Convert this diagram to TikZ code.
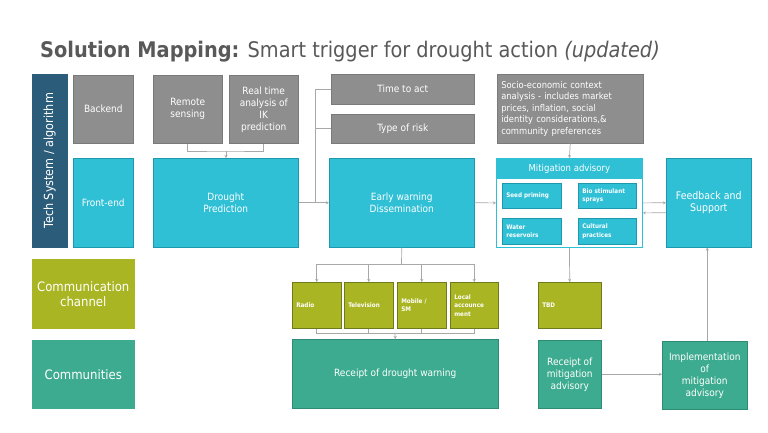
\documentclass[tikz,border=0pt]{standalone}
\usepackage{fontspec}
\setmainfont{DejaVu Sans Condensed}
\usetikzlibrary{arrows.meta}
\definecolor{dblue}{HTML}{2B5D7A}
\definecolor{gbox}{HTML}{8E8E8E}
\definecolor{gedge}{HTML}{7A7A7A}
\definecolor{cbox}{HTML}{2FC0D6}
\definecolor{cedge}{HTML}{1E98AC}
\definecolor{obox}{HTML}{A9B522}
\definecolor{oedge}{HTML}{6F7A1C}
\definecolor{tbox}{HTML}{3DAB8F}
\definecolor{tedge}{HTML}{2E8C74}
\definecolor{lcol}{HTML}{A8A8A8}
\definecolor{ttl}{HTML}{595959}
\tikzset{
  bx/.style={anchor=north west, inner sep=0pt, text=white, align=center, line width=0.5pt},
  graybox/.style={bx, fill=gbox, draw=gedge},
  cyanbox/.style={bx, fill=cbox, draw=cedge},
  olivebox/.style={bx, fill=obox, draw=oedge},
  tealbox/.style={bx, fill=tbox, draw=tedge},
  fmain/.style={font=\fontsize{10}{12}\selectfont},
  fsmall/.style={font=\bfseries\fontsize{6.3}{8.5}\selectfont},
  ln/.style={draw=lcol, line width=0.7pt},
  arr/.style={ln, -{Stealth[length=3pt,width=3pt]}},
}
% \mybox{style}{name}{x1}{y1}{x2}{y2}{text}
\newcommand{\mybox}[7]{\node[#1, minimum width={#5pt-#3pt}, minimum height={#6pt-#4pt}] (#2) at (#3,#4) {#7};}
% left-aligned variant
\newcommand{\mylbox}[7]{\node[#1, minimum width={#5pt-#3pt}, minimum height={#6pt-#4pt}, inner xsep=4pt, text width={#5pt-#3pt-8pt}, align=left] (#2) at (#3,#4) {#7};}
\begin{document}
\begin{tikzpicture}[x=1pt,y=-1pt]
\useasboundingbox[fill=white] (0,0) rectangle (768,432);
% title
\node[anchor=base west, inner sep=0pt, text=ttl, font=\fontsize{21.5}{24}\selectfont] (title) at (40,57)
  {\textbf{Solution Mapping:} Smart trigger for drought action \textit{(updated)}};
% row labels
\mybox{bx, fill=dblue, draw=dblue}{tech}{32}{74}{67}{247}{}
\node[text=white, rotate=90, font=\fontsize{12.5}{14}\selectfont] (techt) at (tech.center) {Tech System / algorithm};
\mybox{graybox, fmain}{backend}{73}{75}{133}{143}{Backend}
\mybox{cyanbox, fmain}{front}{73}{158}{133}{247}{Front-end}
\mybox{olivebox, draw=obox, font=\fontsize{13}{15}\selectfont}{comm}{32}{259}{134}{328}{Communication\\channel}
\mybox{tealbox, draw=tbox, font=\fontsize{13}{15}\selectfont}{cmty}{32}{340}{134}{408}{Communities}
% top row
\mybox{graybox, fmain}{rs}{153}{75}{222}{143}{Remote\\sensing}
\mybox{graybox, fmain}{rt}{229}{75}{298}{143}{Real time\\analysis of\\IK\\prediction}
\mybox{cyanbox, fmain}{dp}{153}{158}{298}{247}{Drought\\Prediction}
\mybox{graybox, fmain}{tta}{331}{74}{474}{104}{Time to act}
\mybox{graybox, fmain}{rsk}{331}{114}{474}{143}{Type of risk}
\mybox{cyanbox, fmain}{ew}{329}{158}{474}{247}{Early warning\\Dissemination}
\mylbox{graybox, font=\fontsize{9.3}{11.5}\selectfont}{soc}{497}{74}{643}{143}{Socio-economic context\\analysis - includes market\\prices, inflation, social\\identity considerations,\&\\community preferences}
% mitigation advisory
\mybox{bx, fill=white, draw=cbox, line width=0.8pt}{mit}{496}{158}{642}{247}{}
\node[bx, fill=cbox, draw=cbox, line width=0.8pt, anchor=north, minimum width=146pt, minimum height=20pt, font=\fontsize{9.5}{11}\selectfont] (mith) at (mit.north) {Mitigation advisory};
\mylbox{cyanbox, fsmall}{seed}{502}{183}{561}{208}{Seed priming}
\mylbox{cyanbox, fsmall}{bio}{578}{183}{636}{208}{Bio stimulant\\sprays}
\mylbox{cyanbox, fsmall}{water}{502}{218}{561}{244}{Water\\reservoirs}
\mylbox{cyanbox, fsmall}{cult}{578}{218}{636}{244}{Cultural\\practices}
\mybox{cyanbox, font=\fontsize{10.5}{12.5}\selectfont}{fb}{666}{158}{751}{247}{Feedback and\\Support}
% channels
\mylbox{olivebox, fsmall}{radio}{292}{282}{341}{328}{Radio}
\mylbox{olivebox, fsmall}{tv}{344}{282}{393}{328}{Television}
\mylbox{olivebox, fsmall}{mob}{397}{282}{446}{328}{Mobile /\\SM}
\mylbox{olivebox, fsmall}{loc}{450}{282}{498}{328}{Local\\accounce\\ment}
\mylbox{olivebox, fsmall}{tbd}{538}{282}{601}{328}{TBD}
% communities row
\mybox{tealbox, fmain}{rdw}{292}{339}{498}{408}{Receipt of drought warning}
\mybox{tealbox, fmain}{rma}{538}{340}{601}{408}{Receipt of\\mitigation\\advisory}
\mybox{tealbox, fmain}{impl}{662}{341}{747}{409}{Implementation\\of\\mitigation\\advisory}
% connectors
\coordinate (j1) at (226,151);
\draw[ln] (rs.south) |- (j1) -| (rt.south);
\draw[arr] (j1) -- (j1 |- dp.north);
\draw[arr] (dp.east) -- (ew.west);
\coordinate (b1) at (315,202.5);
\draw[ln] (b1) |- (tta.west);
\draw[ln] (b1 |- rsk.west) -- (rsk.west);
\draw[arr] (ew.east) -- (mit.west);
\draw[arr] (soc.south) -- (mith.north);
\draw[arr] (mit.east) -- (fb.west);
\draw[arr] ([yshift=-10pt]fb.west) -- ([yshift=-10pt]mit.east);
\coordinate (j2) at (401.5,264);
\draw[ln] (ew.south) -- (j2);
\draw[ln] (radio.north |- j2) -- (loc.north |- j2);
\foreach \c in {radio,tv,mob,loc} { \draw[arr] (\c.north |- j2) -- (\c.north); }
\coordinate (j3) at (395,333);
\draw[ln] (radio.south) |- (j3);
\draw[ln] (loc.south) |- (j3);
\draw[ln] (tv.south) -- (tv.south |- j3);
\draw[ln] (mob.south) -- (mob.south |- j3);
\draw[arr] (j3) -- (rdw.north);
\draw[arr] (mit.south) -- (tbd.north);
\draw[arr] (rma.east) -- (rma.east -| impl.west);
\draw[arr] ([xshift=2.5pt]impl.north) -- ([xshift=2.5pt]impl.north |- fb.south);
\end{tikzpicture}
\end{document}
